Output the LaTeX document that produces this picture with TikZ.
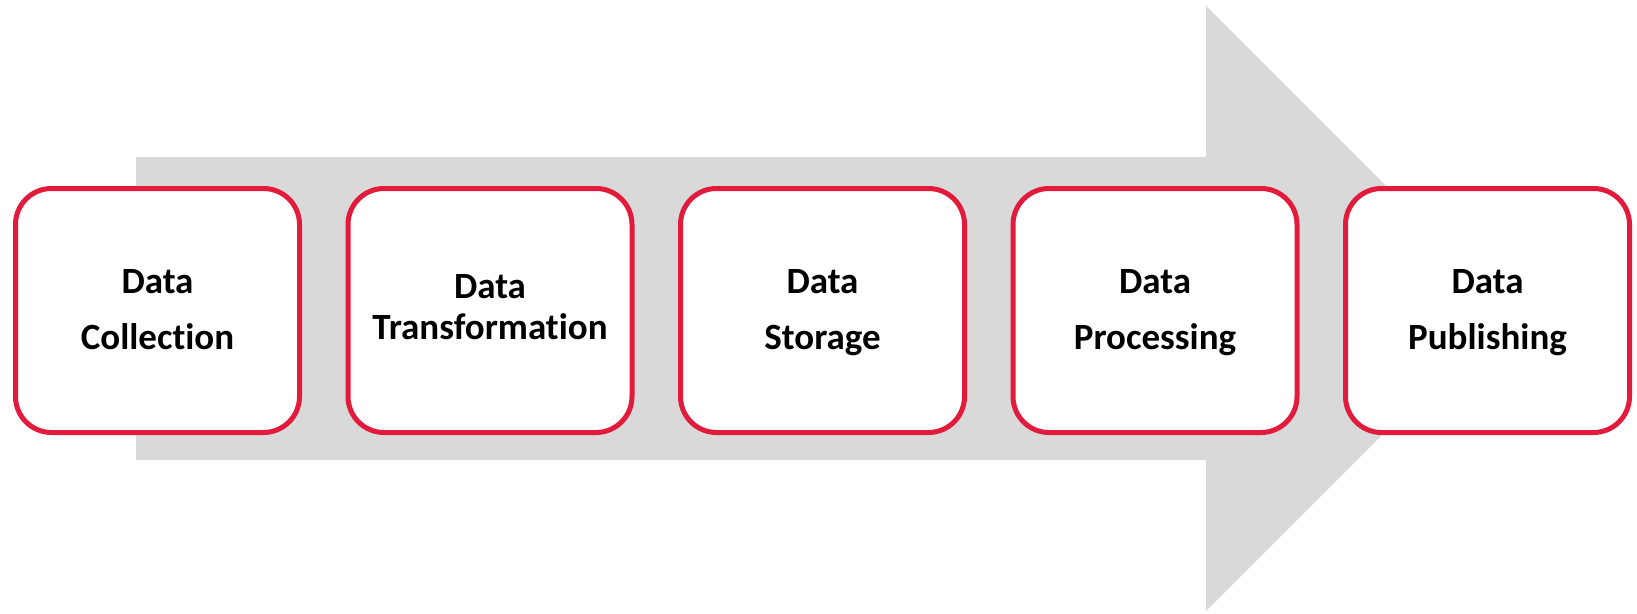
\documentclass[tikz,border=0pt]{standalone}
\usepackage{fontspec}
\setmainfont{Carlito}[RawFeature=-liga]
\definecolor{stagered}{HTML}{E21B3C}
\definecolor{arrowgrey}{HTML}{D9D9D9}
\begin{document}
\begin{tikzpicture}[x=1pt,y=-1pt,
  stagebox/.style={draw=stagered, line width=5pt, fill=white, rounded corners=36pt,
    minimum width=284pt, minimum height=244pt, inner sep=0pt, align=center,
    font=\bfseries\fontsize{37}{56}\selectfont},
  tightbox/.style={stagebox, font=\bfseries\fontsize{37}{41}\selectfont}]
\useasboundingbox (0,0) rectangle (1637,613);
% big grey arrow
\fill[arrowgrey] (136,157) -- (1206,157) -- (1206,6) -- (1508.5,308.5)
  -- (1206,611) -- (1206,460) -- (136,460) -- cycle;
% stages
\node[stagebox] (s1) at (157.5,310.5) {\strut Data\\\strut Collection};
\node[tightbox] (s2) at (490,310.5) {\strut Data\\\strut Transformation};
\node[stagebox] (s3) at (822.5,310.5) {\strut Data\\\strut Storage};
\node[stagebox] (s4) at (1155,310.5) {\strut Data\\\strut Processing};
\node[stagebox] (s5) at (1487.5,310.5) {\strut Data\\\strut Publishing};
\end{tikzpicture}
\end{document}
